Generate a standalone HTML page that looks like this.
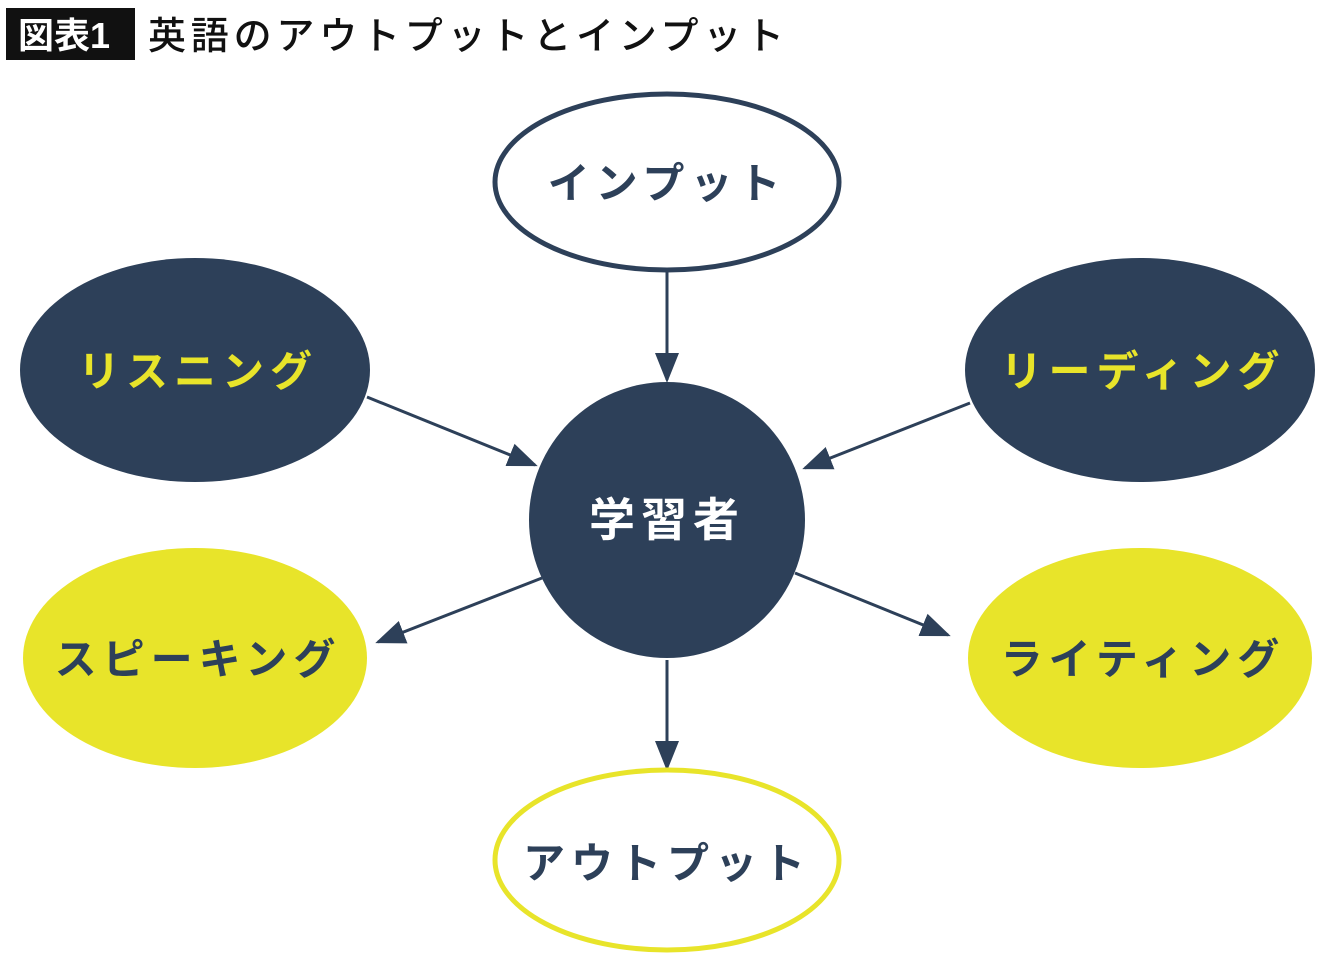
<!DOCTYPE html>
<html><head><meta charset="utf-8"><style>
html,body{margin:0;padding:0;background:#fff;width:1340px;height:970px;overflow:hidden}
text{font-family:"Liberation Sans","Noto Sans CJK JP",sans-serif}
</style></head><body>
<svg width="1340" height="970" viewBox="0 0 1340 970" xmlns="http://www.w3.org/2000/svg">
<defs>
<marker id="b" viewBox="0 0 20 20" markerWidth="30" markerHeight="30" refX="18" refY="10" orient="auto" markerUnits="userSpaceOnUse"><path d="M0,2 L20,10 L0,18 Z" fill="#2d4059"/></marker></defs>
<rect x="6" y="8" width="129" height="52" fill="#111"/>
<text x="18" y="48" font-size="36" font-weight="bold" fill="#fff">図表1</text>
<text x="148" y="49" font-size="38" font-weight="500" fill="#111" letter-spacing="4.8">英語のアウトプットとインプット</text>

<g stroke="#2d4059" stroke-width="3" fill="none">
<line x1="667" y1="272" x2="667" y2="380" marker-end="url(#b)"/>
<line x1="367" y1="397" x2="535" y2="465" marker-end="url(#b)"/>
<line x1="970" y1="403" x2="805" y2="468" marker-end="url(#b)"/>
<line x1="542" y1="578" x2="378" y2="642" marker-end="url(#b)"/>
<line x1="795" y1="573" x2="948" y2="635" marker-end="url(#b)"/>
<line x1="667" y1="660" x2="667" y2="768" marker-end="url(#b)"/>
</g>

<ellipse cx="667" cy="182" rx="172" ry="88" fill="#fff" stroke="#2d4059" stroke-width="5"/>
<ellipse cx="195" cy="370" rx="175" ry="112" fill="#2d4059"/>
<ellipse cx="1140" cy="370" rx="175" ry="112" fill="#2d4059"/>
<circle cx="667" cy="520" r="138" fill="#2d4059"/>
<ellipse cx="195" cy="658" rx="172" ry="110" fill="#e8e42a"/>
<ellipse cx="1140" cy="658" rx="172" ry="110" fill="#e8e42a"/>
<ellipse cx="667" cy="860" rx="172" ry="90" fill="#fff" stroke="#e8e42a" stroke-width="5"/>

<g font-size="42" text-anchor="middle" font-weight="600" letter-spacing="6">
<text x="667" y="198" fill="#2d4059">インプット</text>
<text x="198" y="386" fill="#e8e42a">リスニング</text>
<text x="1143" y="386" fill="#e8e42a">リーディング</text>
<text x="667" y="536" fill="#fff" font-size="46">学習者</text>
<text x="198" y="674" fill="#2d4059">スピーキング</text>
<text x="1143" y="674" fill="#2d4059">ライティング</text>
<text x="667" y="878" fill="#2d4059">アウトプット</text>
</g>
</svg>
</body></html>
